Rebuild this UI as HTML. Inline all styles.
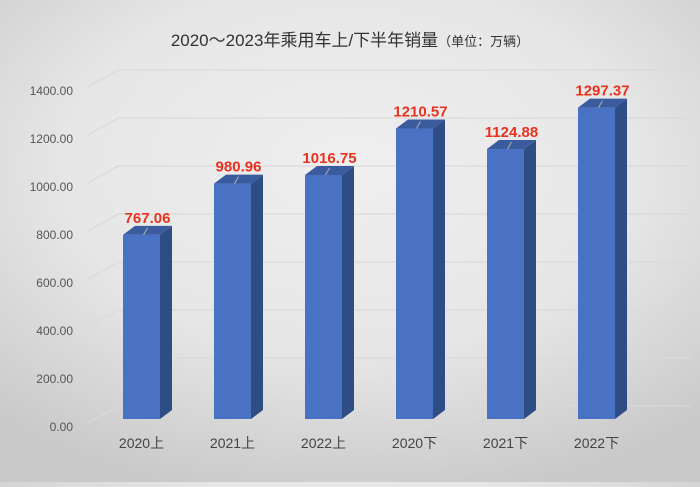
<!DOCTYPE html>
<html><head><meta charset="utf-8"><style>
html,body{margin:0;padding:0}
body{width:700px;height:482px;overflow:hidden;background:radial-gradient(ellipse 75% 70% at 50% 35%,#efefef 0%,#e6e6e6 55%,#c9c9c9 100%);font-family:"Liberation Sans","Noto Sans CJK SC",sans-serif}
</style></head><body>
<svg id="chart" width="700" height="482" xmlns="http://www.w3.org/2000/svg">
<text x="350" y="46" text-anchor="middle" font-size="17" fill="#333" font-family="Liberation Sans, Noto Sans CJK SC, sans-serif">2020～2023年乘用车上/下半年销量<tspan font-size="13">（单位：万辆）</tspan></text>
<g id="grid"></g><g id="bars"></g><g id="labels"></g>
</svg>
<script>
const categories=["2020上","2021上","2022上","2020下","2021下","2022下"];
const values=[767.06,980.96,1016.75,1210.57,1124.88,1297.37];
const ticks=[0,200,400,600,800,1000,1200,1400];
const tickLabels=["0.00","200.00","400.00","600.00","800.00","1000.00","1200.00","1400.00"];
const NS="http://www.w3.org/2000/svg";
const y0=419,k=0.24,dx=12,dy=-9,bw=37,x0=141.5,step=91;
const y=v=>y0-v*k;
const xc=i=>x0+i*step;
function mk(t,a,p){const e=document.createElementNS(NS,t);for(const n in a)e.setAttribute(n,a[n]);p.appendChild(e);return e;}
const G=document.getElementById('grid'),B=document.getElementById('bars'),L=document.getElementById('labels');
ticks.forEach((t,i)=>{
 const yy=y(t);
 const g=mk('polyline',{points:`88,${yy+4} 118,${yy-13} 690,${yy-13}`,fill:'none',stroke:'#dadada','stroke-width':1.2},G);
 
 
 const tx=mk('text',{x:73,y:yy+12,'text-anchor':'end','font-size':12,fill:'#555'},G);
 tx.textContent=tickLabels[i];
 
 
});
values.forEach((v,i)=>{
 const l=xc(i)-bw/2,r=l+bw,t=y(v);
 const g=mk('g',{},B);
 
 
 mk('polygon',{points:`${r},${t} ${r+dx},${t+dy} ${r+dx},${y0+dy} ${r},${y0}`,fill:'#2f4d85'},g);
 mk('polygon',{points:`${l},${t} ${l+dx},${t+dy} ${r+dx},${t+dy} ${r},${t}`,fill:'#3a5c9e'},g);
 mk('rect',{x:l,y:t,width:bw,height:y0-t,fill:'#4a72c4'},g);
 mk('line',{x1:xc(i)+2,y1:t,x2:xc(i)+6,y2:t-7,stroke:'#b0b0b0','stroke-width':1},g);
 const vt=mk('text',{x:xc(i)+6,y:t-12,'text-anchor':'middle','font-size':15,'font-weight':'bold',fill:'#e8321e'},L);
 vt.textContent=v.toFixed(2);
 
 
 const ct=mk('text',{x:xc(i),y:448,'text-anchor':'middle','font-size':14,fill:'#444'},L);
 ct.textContent=categories[i];
 
 
});
</script>
</body></html>
